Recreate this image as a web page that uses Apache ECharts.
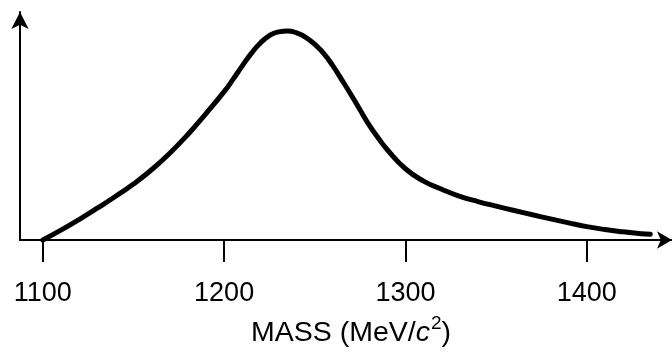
<!DOCTYPE html>
<html>
<head>
<meta charset="utf-8">
<script src="https://cdn.jsdelivr.net/npm/echarts@6/dist/echarts.min.js"></script>
<style>
html,body{margin:0;padding:0;background:#fff;}
#chart{width:672px;height:353px;}
</style>
</head>
<body>
<div id="chart"></div>
<script>
// Mass values (MeV/c^2) at which the curve was read
var mass = [1100, 1110, 1120, 1130, 1140, 1150, 1160, 1170, 1180, 1190, 1200, 1205, 1210, 1215, 1220, 1225, 1230, 1235, 1240, 1245, 1250, 1255, 1260, 1265, 1270, 1275, 1280, 1285, 1290, 1300, 1310, 1320, 1330, 1340, 1350, 1360, 1370, 1380, 1390, 1400, 1410, 1420, 1430, 1435];
// Relative intensity (arbitrary units, peak = 100)
var intensity = [0, 4.7, 9.8, 15.2, 20.8, 26.8, 33.6, 41.5, 50.5, 60.5, 71.0, 77.0, 83.3, 89.3, 94.3, 97.8, 99.6, 100, 99.1, 97.0, 93.6, 89.2, 83.3, 76.5, 69.5, 62.2, 55.0, 48.8, 43.2, 34.1, 28.2, 24.3, 20.9, 18.4, 16.2, 14.1, 12.1, 10.1, 8.2, 6.4, 5.0, 3.9, 3.0, 2.7];
// Tick labels
var xTicks = [1100, 1200, 1300, 1400];

var points = mass.map(function (m, i) { return [m, intensity[i]]; });
var FONT = '"Liberation Sans", Arial, Helvetica, sans-serif';

var chart = echarts.init(document.getElementById('chart'), null, {renderer: 'canvas'});
chart.setOption({
  animation: false,
  backgroundColor: '#fff',
  grid: {left: 20, right: -6, top: 12, bottom: 101, containLabel: false},
  xAxis: {
    type: 'value',
    min: 1087.43,
    max: 1447.0,
    splitLine: {show: false},
    axisLine: {
      show: true,
      symbol: ['none', 'arrow'],
      symbolSize: [13, 15],
      lineStyle: {color: '#000', width: 2}
    },
    axisTick: {
      show: true,
      customValues: xTicks,
      length: 22,
      inside: false,
      lineStyle: {color: '#000', width: 2}
    },
    axisLabel: {
      show: true,
      customValues: xTicks,
      formatter: function (v) { return String(v); },
      margin: 40,
      color: '#000',
      fontSize: 27,
      fontFamily: FONT
    },
    name: '{a|MASS (MeV/}{i|c}{s|2}{a|)}',
    nameLocation: 'middle',
    nameGap: 74,
    nameTextStyle: {
      padding: [0, 0, 0, 10],
      rich: {
        a: {fontSize: 28.5, color: '#000', fontFamily: FONT},
        i: {fontSize: 28.5, color: '#000', fontFamily: FONT, fontStyle: 'italic'},
        s: {fontSize: 19, color: '#000', fontFamily: FONT, padding: [0, 0, 20, 1]}
      }
    }
  },
  yAxis: {
    type: 'value',
    min: 0,
    max: 109.1,
    splitLine: {show: false},
    axisTick: {show: false},
    axisLabel: {show: false},
    axisLine: {
      show: true,
      symbol: ['none', 'arrow'],
      symbolSize: [13, 17],
      lineStyle: {color: '#000', width: 2}
    }
  },
  series: [{
    type: 'line',
    data: points,
    smooth: 0.5,
    showSymbol: false,
    symbol: 'none',
    clip: false,
    lineStyle: {color: '#000', width: 5, cap: 'round', join: 'round'}
  }]
});
</script>
</body>
</html>
